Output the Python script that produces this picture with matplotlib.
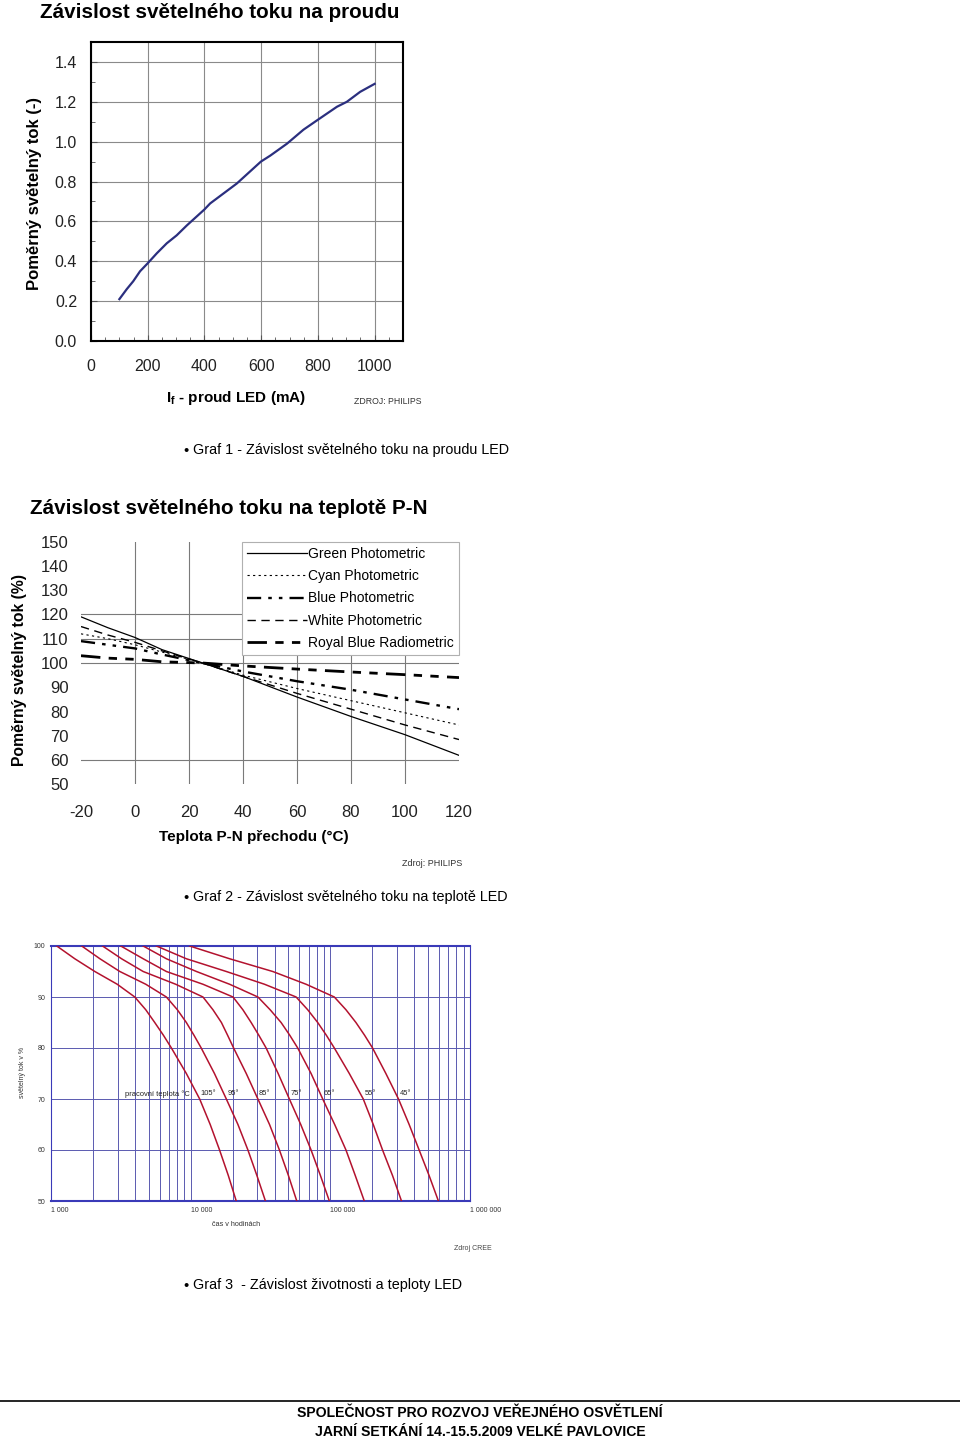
import numpy as np
import matplotlib.pyplot as plt
from matplotlib.ticker import MultipleLocator, LogLocator, NullFormatter

plt.rcParams['font.family'] = ['Liberation Sans', 'DejaVu Sans']
plt.rcParams['mathtext.fontset'] = 'custom'
plt.rcParams['mathtext.bf'] = 'Liberation Sans:bold'
plt.rcParams['mathtext.rm'] = 'Liberation Sans'
plt.rcParams['axes.unicode_minus'] = False

# ---- Graf 1: tok vs proud ----
proud = [100, 126, 149, 173, 200, 232, 267, 302, 338, 400, 420, 467, 514,
         599, 632, 691, 749, 800, 867, 902, 949, 1000]
tok_proud = [0.21, 0.26, 0.30, 0.35, 0.39, 0.44, 0.49, 0.53, 0.58, 0.66, 0.69,
             0.74, 0.79, 0.90, 0.93, 0.99, 1.06, 1.11, 1.175, 1.20, 1.25, 1.29]

# ---- Graf 2: tok vs teplota P-N ----
teplota = [-20, -10, 0, 10, 25, 40, 60, 80, 100, 120]
green = [119, 114.5, 110.5, 105.5, 100, 94.5, 86, 78, 70.5, 62]
cyan = [112, 110, 107.5, 104.5, 100, 95, 89.5, 84.5, 79.5, 74.5]
blue = [109, 107.5, 106, 103.5, 100, 96.5, 92.5, 89, 85, 81]
white = [115, 111.5, 108.5, 105, 100, 94.5, 87.5, 81, 74.5, 68.5]
royal = [103, 102, 101.5, 100.5, 100, 98.8, 97.5, 96.3, 95.2, 94]

# ---- Graf 3: zivotnost (hodiny) pri ruznych teplotach ----
tok_levels = [100, 97.5, 95, 92.5, 90, 87.5, 85, 82.5, 80, 75, 70, 65, 60, 55, 50]
hod_105 = [1100, 1480, 2060, 2980, 3980, 4770, 5530, 6380, 7280, 9310,
           11600, 13800, 16100, 18600, 21200]
hod_95 = [1660, 2240, 3110, 4770, 6700, 8030, 9310, 10560, 11900, 14800,
          18000, 21800, 25700, 29800, 34300]
hod_85 = [2340, 3200, 4570, 7810, 12250, 14440, 16600, 18380, 20300, 25000,
          30300, 36700, 43200, 50100, 57500]
hod_75 = [3160, 4570, 6700, 12250, 20100, 23650, 27100, 30760, 34700, 42300,
          50900, 61400, 72800, 84900, 98400]
hod_65 = [4570, 6700, 11000, 19000, 30300, 37070, 44400, 51230, 58400, 72800,
          88200, 107400, 129400, 150800, 175000]
hod_55 = [5690, 9310, 18000, 33780, 56900, 68870, 81200, 93630, 106800, 136700,
          172100, 202900, 236500, 278700, 323200]
hod_45 = [9840, 19000, 38700, 67040, 106800, 129400, 152500, 175900, 200600,
          249800, 307600, 366700, 432300, 509400, 594000]
teploty_prac = ['105°', '95°', '85°', '75°', '65°', '55°', '45°']

W, H = 960, 1439
fig = plt.figure(figsize=(W / 100, H / 100), dpi=100)


def box(x0, y0, x1, y1):
    return [x0 / W, 1 - y1 / H, (x1 - x0) / W, (y1 - y0) / H]


def ftext(x, y, s, **kw):
    fig.text(x / W, 1 - y / H, s, **kw)


# ================= Graf 1 =================
ftext(40, 13, 'Závislost světelného toku na proudu', fontsize=14.9,
      fontweight='bold', va='center')

ax1 = fig.add_axes(box(91, 42, 403, 341))
ax1.plot(proud, tok_proud, color='#2b2f7f', lw=1.6)
ax1.set_xlim(0, 1100)
ax1.set_ylim(0, 1.5)
ax1.set_xticks([0, 200, 400, 600, 800, 1000])
ax1.set_yticks([0.0, 0.2, 0.4, 0.6, 0.8, 1.0, 1.2, 1.4])
ax1.set_yticklabels(['0.0', '0.2', '0.4', '0.6', '0.8', '1.0', '1.2', '1.4'])
ax1.xaxis.set_minor_locator(MultipleLocator(50))
ax1.yaxis.set_minor_locator(MultipleLocator(0.1))
ax1.tick_params(which='both', direction='in', colors='#555555',
                labelcolor='#222222', labelsize=11.5)
ax1.tick_params(axis='x', which='major', length=4, pad=13)
ax1.tick_params(axis='y', which='major', length=4, pad=10)
ax1.tick_params(which='minor', length=3)
ax1.grid(True, which='major', color='#8a8a8a', lw=0.8)
for s in ax1.spines.values():
    s.set_linewidth(1.5)
    s.set_color('black')

ftext(35, 193, 'Poměrný světelný tok (-)', fontsize=12, fontweight='bold',
      rotation=90, ha='center', va='center')
ftext(236, 398, r'I$_{\mathbf{f}}$ - proud LED (mA)', fontsize=11,
      fontweight='bold', ha='center', va='center')
ftext(354, 401, 'ZDROJ: PHILIPS', fontsize=6.3, va='center', color='#333333')

ftext(186, 451, '•', fontsize=10.5, ha='center', va='center')
ftext(193, 450, 'Graf 1 - Závislost světelného toku na proudu LED',
      fontsize=10.4, va='center')

# ================= Graf 2 =================
ftext(30, 508, 'Závislost světelného toku na teplotě P-N', fontsize=14.9,
      fontweight='bold', va='center')

ax2 = fig.add_axes(box(81, 541.5, 459, 784.5))
ax2.plot(teplota, green, color='black', lw=0.9, label='Green Photometric')
ax2.plot(teplota, cyan, color='black', lw=0.8, dashes=(2, 3),
         label='Cyan Photometric')
ax2.plot(teplota, blue, color='black', lw=1.7, dashes=(6, 3, 1.5, 3, 1.5, 3),
         label='Blue Photometric')
ax2.plot(teplota, white, color='black', lw=1.0, dashes=(6, 4),
         label='White Photometric')
ax2.plot(teplota, royal, color='black', lw=2.0, dashes=(7, 3, 3, 3, 3, 3),
         label='Royal Blue Radiometric')
ax2.set_xlim(-20, 120)
ax2.set_ylim(50, 150)
ax2.set_xticks(range(-20, 121, 20))
ax2.set_yticks(range(50, 151, 10))
ax2.tick_params(length=0, labelsize=12, labelcolor='#222222')
ax2.tick_params(axis='x', pad=15)
ax2.tick_params(axis='y', pad=9)
for x in range(0, 101, 20):
    ax2.axvline(x, color='#7a7a7a', lw=0.8, zorder=0)
for y in [60, 100, 110, 120]:
    ax2.axhline(y, color='#7a7a7a', lw=0.8, zorder=0)
for s in ax2.spines.values():
    s.set_visible(False)
leg = ax2.legend(loc='upper right', bbox_to_anchor=(1.0, 1.0), fontsize=10,
                 handlelength=4.3, handletextpad=0.1, labelspacing=0.6,
                 borderpad=0.38, fancybox=False, edgecolor='#b0b0b0',
                 framealpha=1, borderaxespad=0)
leg.get_frame().set_linewidth(0.8)

ftext(20, 670, 'Poměrný světelný tok (%)', fontsize=11.3, fontweight='bold',
      rotation=90, ha='center', va='center')
ftext(254, 837, 'Teplota P-N přechodu (°C)', fontsize=11, fontweight='bold',
      ha='center', va='center')
ftext(402, 863, 'Zdroj: PHILIPS', fontsize=6.5, va='center', color='#333333')

ftext(186, 898, '•', fontsize=10.5, ha='center', va='center')
ftext(193, 897, 'Graf 2 - Závislost světelného toku na teplotě LED',
      fontsize=10.4, va='center')

# ================= Graf 3 =================
ax3 = fig.add_axes(box(51, 946, 470, 1201))
krivky = [hod_105, hod_95, hod_85, hod_75, hod_65, hod_55, hod_45]
for hod, lab in zip(krivky, teploty_prac):
    ax3.plot(hod, tok_levels, color='#b3122e', lw=1.1, zorder=3)
    t70 = hod[tok_levels.index(70)]
    ax3.text(t70 * 1.02, 71, lab, fontsize=5.4, va='center', ha='left',
             color='#222222', zorder=4)
ax3.text(3400, 71, 'pracovní teplota °C', fontsize=5.4, va='center',
         ha='left', color='#222222', zorder=4)
ax3.set_xscale('log')
ax3.set_xlim(1000, 1e6)
ax3.set_ylim(50, 100)
ax3.set_xticks([1e3, 1e4, 1e5, 1e6])
ax3.set_xticklabels(['1 000', '10 000', '100 000', '1 000 000'], ha='left')
ax3.xaxis.set_minor_locator(LogLocator(base=10, subs=range(2, 10)))
ax3.xaxis.set_minor_formatter(NullFormatter())
ax3.set_yticks(range(50, 101, 10))
ax3.tick_params(which='both', length=0, labelsize=5, labelcolor='#333333')
ax3.tick_params(axis='x', pad=4)
ax3.tick_params(axis='y', pad=4)
ax3.grid(True, which='both', axis='x', color='#5a5ab0', lw=0.7, zorder=0)
ax3.grid(True, which='major', axis='y', color='#5a5ab0', lw=0.7, zorder=0)
for k, s in ax3.spines.items():
    s.set_color('#3a3ab8')
    s.set_linewidth(1.5 if k in ('top', 'bottom') else 0.8)

ftext(22, 1072, 'světelný tok v %', fontsize=5, rotation=90, ha='center',
      va='center', color='#333333')
ftext(236, 1224, 'čas v hodinách', fontsize=5.2, ha='center', va='center',
      color='#333333')
ftext(473, 1248, 'Zdroj CREE', fontsize=5, ha='center', va='center',
      color='#444444')

ftext(186, 1286, '•', fontsize=10.5, ha='center', va='center')
ftext(193, 1285, 'Graf 3  - Závislost životnosti a teploty LED',
      fontsize=10.4, va='center')

# ================= paticka =================
fig.add_artist(plt.Line2D([0, 1], [1 - 1401 / H, 1 - 1401 / H],
                          color='black', lw=1.2))
ftext(480, 1413, 'SPOLEČNOST PRO ROZVOJ VEŘEJNÉHO OSVĚTLENÍ', fontsize=10.1,
      fontweight='bold', ha='center', va='center')
ftext(480, 1432, 'JARNÍ SETKÁNÍ 14.-15.5.2009 VELKÉ PAVLOVICE', fontsize=10.1,
      fontweight='bold', ha='center', va='center')

fig.savefig('out.png', dpi=100, facecolor='white')
